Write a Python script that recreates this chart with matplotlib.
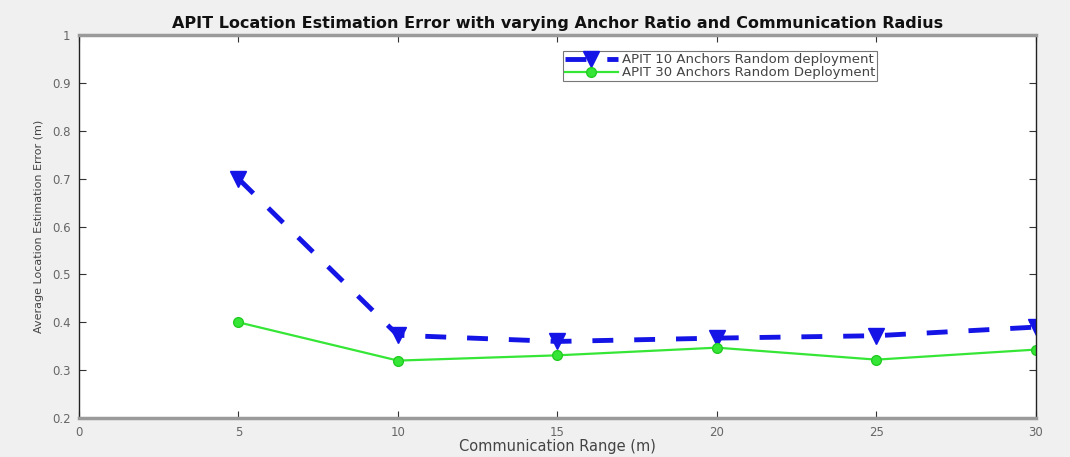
import matplotlib
matplotlib.use("Agg")
import matplotlib.pyplot as plt

plt.rcParams['font.family'] = ['DejaVu Sans']

# Communication range values and average location error per deployment
comm_range = [5, 10, 15, 20, 25, 30]
err_10_anchors = [0.70, 0.373, 0.360, 0.367, 0.372, 0.390]
err_30_anchors = [0.40, 0.320, 0.331, 0.347, 0.322, 0.343]

x_ticks = [0, 5, 10, 15, 20, 25, 30]
y_ticks = [0.2, 0.3, 0.4, 0.5, 0.6, 0.7, 0.8, 0.9, 1.0]
y_tick_labels = ["0.2", "0.3", "0.4", "0.5", "0.6", "0.7", "0.8", "0.9", "1"]

fig = plt.figure(figsize=(10.7, 4.57), dpi=100, facecolor="#f0f0f0")
ax = fig.add_axes([0.0738, 0.0853, 0.8942, 0.8377])
ax.set_facecolor("white")

blue = "#1414e6"
green = "#36e636"
ax.plot(comm_range, err_10_anchors, color=blue, linestyle="--", linewidth=3.5,
        dashes=(4.3, 4.3), marker="v", markersize=12, markerfacecolor=blue,
        markeredgecolor=blue, label="APIT 10 Anchors Random deployment")
ax.plot(comm_range, err_30_anchors, color=green, linestyle="-", linewidth=1.6,
        marker="o", markersize=7, markerfacecolor=green,
        markeredgecolor="#22cc22", label="APIT 30 Anchors Random Deployment")

ax.set_xlim(0, 30)
ax.set_ylim(0.2, 1.0)
ax.set_xticks(x_ticks)
ax.set_yticks(y_ticks)
ax.set_yticklabels(y_tick_labels)
ax.tick_params(direction="in", length=5, width=0.8, top=True, right=True,
               labelsize=8.5, labelcolor="#666666", color="#333333", pad=6)

for side in ["left", "right"]:
    ax.spines[side].set_color("#222222")
    ax.spines[side].set_linewidth(1.0)
for side in ["top", "bottom"]:
    ax.spines[side].set_color("#9a9a9a")
    ax.spines[side].set_linewidth(2.5)

ax.set_xlabel("Communication Range (m)", fontsize=10.5, color="#444444", labelpad=0)
ax.set_ylabel("Average Location Estimation Error (m)", fontsize=8, color="#444444",
              labelpad=6)
ax.set_title("APIT Location Estimation Error with varying Anchor Ratio and Communication Radius",
             fontsize=11.5, fontweight="bold", color="#111111", pad=5)

leg = ax.legend(loc="upper left", bbox_to_anchor=(0.506, 0.958), fontsize=9.5,
                frameon=True, fancybox=False, borderpad=0.15, labelspacing=0.0,
                handlelength=4.0, handletextpad=0.3, borderaxespad=0)
leg.get_frame().set_edgecolor("#555555")
leg.get_frame().set_linewidth(0.8)
for t in leg.get_texts():
    t.set_color("#444444")

fig.savefig("out.png", dpi=100, facecolor=fig.get_facecolor())
